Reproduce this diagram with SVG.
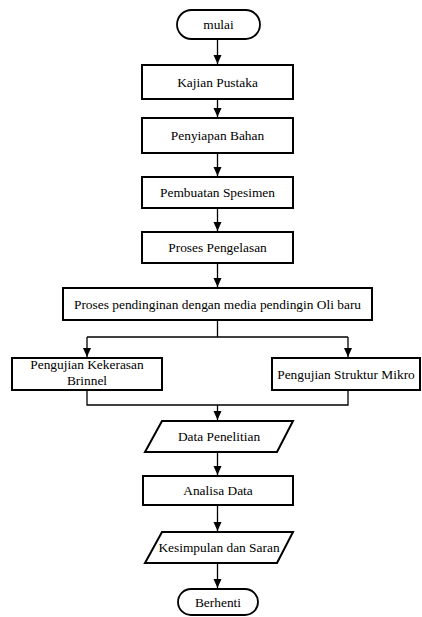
<svg xmlns="http://www.w3.org/2000/svg" width="422" height="617" viewBox="0 0 422 617">
<style>
.box{fill:#fff;stroke:#000;stroke-width:2}
.term{fill:#fff;stroke:#000;stroke-width:1.8}
.ln{fill:none;stroke:#000;stroke-width:1.3}
.t{font-family:'Liberation Serif','Times New Roman',serif;font-size:13.4px;fill:#000;text-anchor:middle}
</style>
<defs>
<marker id="ah" markerWidth="10" markerHeight="10" refX="9" refY="5" orient="auto" markerUnits="userSpaceOnUse">
<path d="M0,1 L9,5 L0,9 Z" fill="#000"/>
</marker>
</defs>
<g id="connectors">
<line class="ln" x1="217.5" y1="39" x2="217.5" y2="64" marker-end="url(#ah)"/>
<line class="ln" x1="217.5" y1="99" x2="217.5" y2="117" marker-end="url(#ah)"/>
<line class="ln" x1="217.5" y1="153" x2="217.5" y2="176" marker-end="url(#ah)"/>
<line class="ln" x1="217.5" y1="208" x2="217.5" y2="231" marker-end="url(#ah)"/>
<line class="ln" x1="217.5" y1="263" x2="217.5" y2="287" marker-end="url(#ah)"/>
<polyline class="ln" points="217.5,320 217.5,337"/>
<polyline class="ln" points="87,337 348,337"/>
<line class="ln" x1="87" y1="337" x2="87" y2="357" marker-end="url(#ah)"/>
<line class="ln" x1="348" y1="337" x2="348" y2="357" marker-end="url(#ah)"/>
<polyline class="ln" points="87,390 87,405 348,405 348,390"/>
<line class="ln" x1="217.5" y1="405" x2="217.5" y2="420" marker-end="url(#ah)"/>
<line class="ln" x1="217.5" y1="452" x2="217.5" y2="475" marker-end="url(#ah)"/>
<line class="ln" x1="217.5" y1="505" x2="217.5" y2="531" marker-end="url(#ah)"/>
<line class="ln" x1="217.5" y1="563" x2="217.5" y2="588" marker-end="url(#ah)"/>
</g>
<g id="mulai">
<rect class="term" x="177" y="10" width="83" height="29" rx="14.5"/>
<text class="t" x="218.5" y="29">mulai</text>
</g>
<g id="kajian">
<rect class="box" x="142" y="65" width="151" height="34"/>
<text class="t" x="217.5" y="86.5">Kajian Pustaka</text>
</g>
<g id="penyiapan">
<rect class="box" x="142" y="118" width="151" height="35"/>
<text class="t" x="217.5" y="140">Penyiapan Bahan</text>
</g>
<g id="pembuatan">
<rect class="box" x="142" y="177" width="151" height="31"/>
<text class="t" x="217.5" y="197">Pembuatan Spesimen</text>
</g>
<g id="pengelasan">
<rect class="box" x="142" y="232" width="151" height="31"/>
<text class="t" x="217.5" y="252">Proses Pengelasan</text>
</g>
<g id="pendinginan">
<rect class="box" x="63" y="288" width="309" height="32"/>
<text class="t" x="217.5" y="308.5">Proses pendinginan dengan media pendingin Oli baru</text>
</g>
<g id="kekerasan">
<rect class="box" x="12" y="358" width="150" height="32"/>
<text class="t" x="87" y="369">Pengujian Kekerasan</text>
<text class="t" x="87" y="385">Brinnel</text>
</g>
<g id="struktur">
<rect class="box" x="272" y="358" width="148" height="32"/>
<text class="t" x="346" y="378.5">Pengujian Struktur Mikro</text>
</g>
<g id="data">
<polygon class="box" points="162,421 293,421 277,452 145,452"/>
<text class="t" x="219" y="441">Data Penelitian</text>
</g>
<g id="analisa">
<rect class="box" x="143" y="476" width="150" height="29"/>
<text class="t" x="218" y="495">Analisa Data</text>
</g>
<g id="kesimpulan">
<polygon class="box" points="162,532 293,532 277,563 145,563"/>
<text class="t" x="219" y="552">Kesimpulan dan Saran</text>
</g>
<g id="berhenti">
<rect class="term" x="178" y="589" width="80" height="26" rx="13"/>
<text class="t" x="218" y="606.5">Berhenti</text>
</g>
</svg>
